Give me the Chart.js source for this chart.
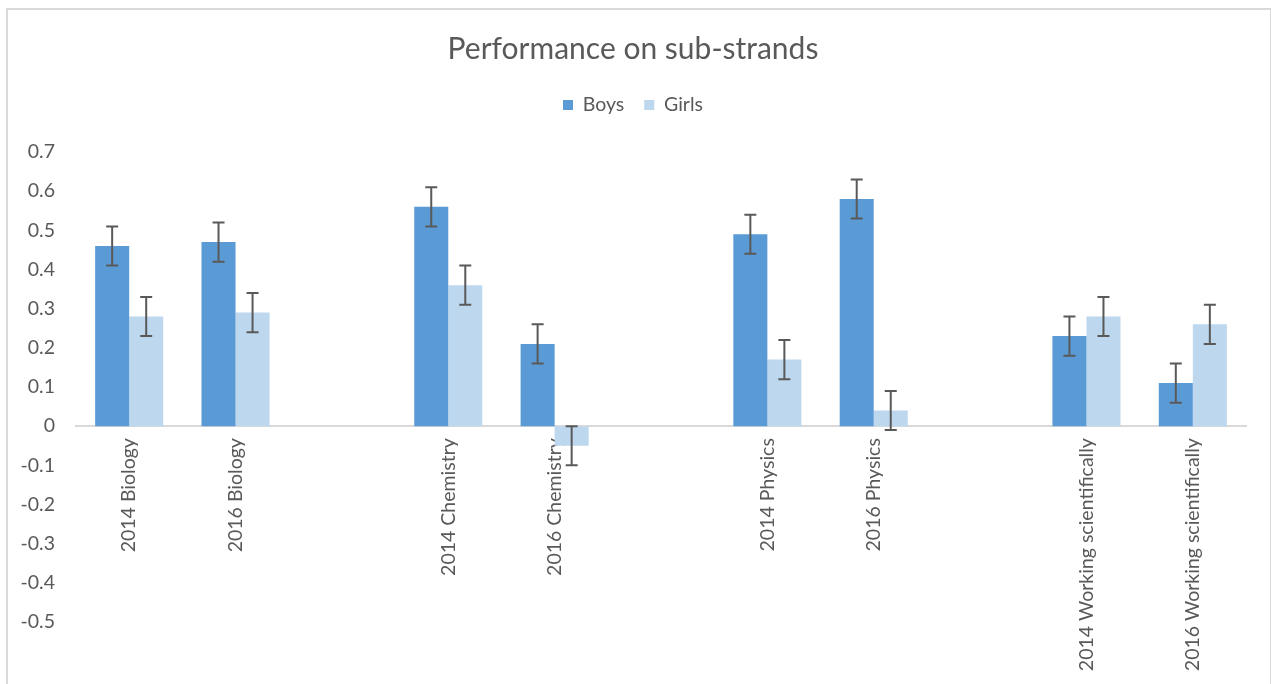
<!DOCTYPE html>
<html>
<head>
<meta charset="utf-8">
<script src="https://cdn.jsdelivr.net/npm/chart.js@4.4.1/dist/chart.umd.min.js"></script>
<style>
  html, body { margin: 0; padding: 0; background: #ffffff; }
  #wrap { position: relative; width: 1271px; height: 684px; overflow: hidden; background: #ffffff; }
  #frame { position: absolute; left: 6px; top: 8px; width: 1262px; height: 674px; border: 2px solid #d9d9d9; pointer-events: none; }
  canvas { position: absolute; left: 0; top: 0; }
</style>
</head>
<body>
<div id="wrap">
  <canvas id="c" width="1271" height="684"></canvas>
  <div id="frame"></div>
</div>
<script>
const chartTitle = 'Performance on sub-strands';
const categories = ['2014 Biology', '2016 Biology', '', '2014 Chemistry', '2016 Chemistry', '', '2014 Physics', '2016 Physics', '', '2014 Working scientifically', '2016 Working scientifically'];
const boysValues  = [0.46, 0.47, null, 0.56, 0.21, null, 0.49, 0.58, null, 0.23, 0.11];
const girlsValues = [0.28, 0.29, null, 0.36, -0.05, null, 0.17, 0.04, null, 0.28, 0.26];
const boysErrors  = [0.05, 0.05, null, 0.05, 0.05, null, 0.05, 0.05, null, 0.05, 0.05];
const girlsErrors = [0.05, 0.05, null, 0.05, 0.05, null, 0.05, 0.05, null, 0.05, 0.05];
const yMin = -0.5, yMax = 0.7, yStep = 0.1;

const FONT = 'Lato, "Open Sans", "Liberation Sans", sans-serif';
const TEXT = '#595959';

const errorBarPlugin = {
  id: 'errorBars',
  afterDatasetsDraw(chart) {
    const ctx = chart.ctx;
    const yScale = chart.scales.y;
    chart.data.datasets.forEach((ds, di) => {
      const meta = chart.getDatasetMeta(di);
      if (meta.hidden) return;
      meta.data.forEach((bar, i) => {
        const v = ds.data[i];
        const e = ds.errors ? ds.errors[i] : null;
        if (v === null || e === null || e === undefined) return;
        const x = bar.x;
        const yTop = yScale.getPixelForValue(v + e);
        const yBot = yScale.getPixelForValue(v - e);
        const cap = 6;
        ctx.save();
        ctx.strokeStyle = '#595959';
        ctx.lineWidth = 2;
        ctx.beginPath();
        ctx.moveTo(x, yTop); ctx.lineTo(x, yBot);
        ctx.moveTo(x - cap, yTop); ctx.lineTo(x + cap, yTop);
        ctx.moveTo(x - cap, yBot); ctx.lineTo(x + cap, yBot);
        ctx.stroke();
        ctx.restore();
      });
    });
  }
};

new Chart(document.getElementById('c'), {
  type: 'bar',
  data: {
    labels: categories,
    datasets: [
      { label: 'Boys', data: boysValues, errors: boysErrors, backgroundColor: '#5B9BD5', borderWidth: 0 },
      { label: 'Girls', data: girlsValues, errors: girlsErrors, backgroundColor: '#BDD7EE', borderWidth: 0 }
    ]
  },
  options: {
    responsive: false,
    animation: false,
    devicePixelRatio: 1,
    layout: { padding: { top: 0, left: 20, right: 25, bottom: 62 } },
    datasets: { bar: { categoryPercentage: 0.64, barPercentage: 1.0 } },
    plugins: {
      title: {
        display: true, text: chartTitle, color: TEXT,
        font: { family: FONT, size: 30, weight: 'normal', lineHeight: 1.2 },
        padding: { top: 31, bottom: 8.25 }
      },
      legend: {
        display: true, position: 'top', align: 'center',
        labels: { color: TEXT, font: { family: FONT, size: 19.5 }, boxWidth: 10, boxHeight: 10, padding: 20 }
      },
      subtitle: {
        display: true, text: '', weight: 500,
        font: { size: 10, lineHeight: 1.2 },
        padding: { top: 15.25, bottom: 0 }
      },
      tooltip: { enabled: false }
    },
    scales: {
      x: {
        type: 'category',
        position: { y: 0 },
        grid: { display: false, drawTicks: false },
        border: { display: true, color: '#d9d9d9', width: 2 },
        ticks: {
          color: TEXT, font: { family: FONT, size: 19.5 },
          minRotation: 90, maxRotation: 90, autoSkip: false, padding: 12
        }
      },
      y: {
        min: yMin, max: yMax,
        grid: { display: false, drawTicks: false },
        border: { display: false },
        afterFit(s) { s.width = 56; },
        ticks: {
          stepSize: yStep, color: TEXT, padding: 21,
          font: { family: FONT, size: 19.5 },
          callback: (v) => { const r = Math.round(v * 10) / 10; return r === 0 ? '0' : String(r); }
        }
      }
    }
  },
  plugins: [errorBarPlugin]
});
</script>
</body>
</html>
